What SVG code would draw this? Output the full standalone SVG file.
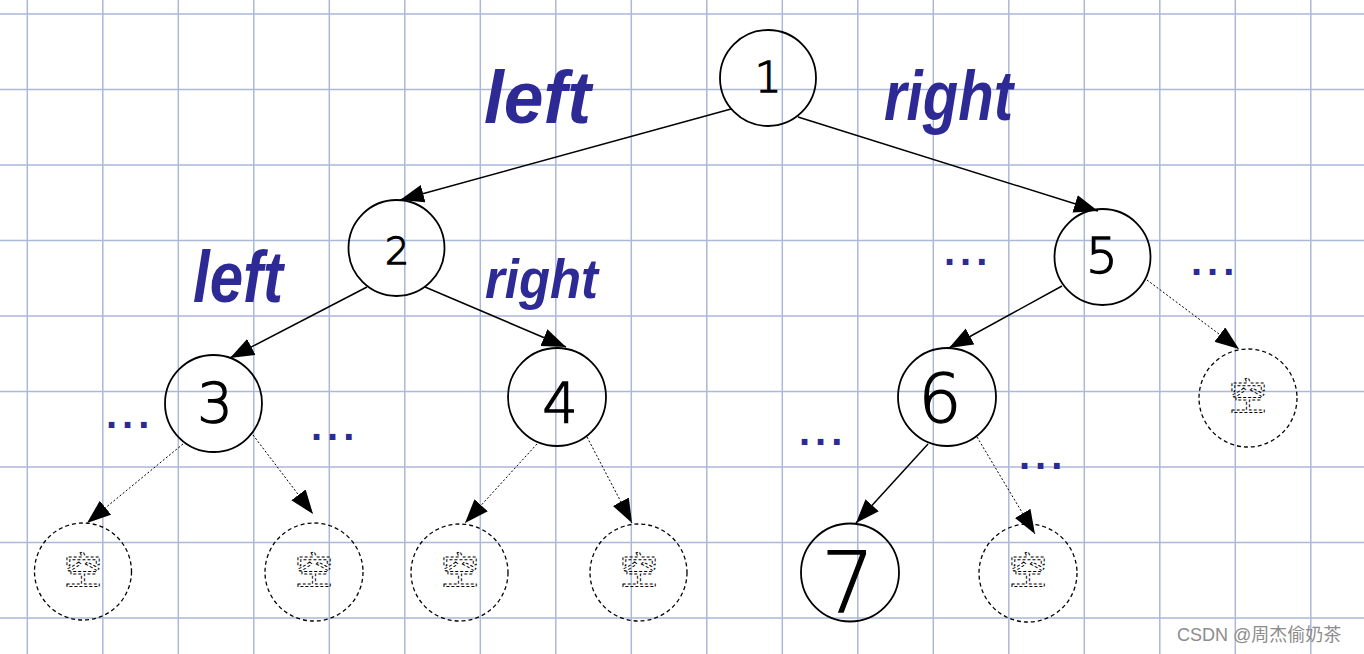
<svg xmlns="http://www.w3.org/2000/svg" width="1364" height="654" viewBox="0 0 1364 654">
<style>
.grid{stroke:#abb9d9;stroke-width:1.5;fill:none}
.node{fill:none;stroke:#000;stroke-width:1.8}
.empty{fill:none;stroke:#000;stroke-width:1.3;stroke-dasharray:4 3}
.num{font-family:"DejaVu Sans","Liberation Sans",sans-serif;font-weight:200;fill:#000;stroke:#000;stroke-width:1.3;text-anchor:middle}
.kong{font-family:"Noto Sans CJK SC",sans-serif;font-size:38px;fill:none;stroke:#000;stroke-width:1;stroke-dasharray:3 2;text-anchor:middle}
.hand{font-family:"Liberation Sans","DejaVu Sans",sans-serif;font-style:italic;font-weight:bold;fill:#2e2a95}
.dots{font-family:"Liberation Sans",sans-serif;font-weight:bold;font-size:40px;letter-spacing:5px;fill:#2e2a95}
.solid{stroke:#000;stroke-width:1.5;fill:none;marker-end:url(#arr)}
.dotted{stroke:#000;stroke-width:1;stroke-dasharray:2 2;fill:none;marker-end:url(#arr)}
.wm{font-family:"Liberation Sans","Noto Sans CJK SC",sans-serif;font-size:18px;fill:#8c8c8c}
</style>
<defs>
<marker id="arr" markerUnits="userSpaceOnUse" markerWidth="26" markerHeight="20" refX="24" refY="9" orient="auto">
<path d="M0,0 L24,9 L0,18 Z" fill="#000"/>
</marker>
</defs>
<rect width="1364" height="654" fill="#fff"/>
<g id="grid">
<path class="grid" d="M27.3,0V654M102.8,0V654M178.3,0V654M253.8,0V654M329.3,0V654M404.8,0V654M480.3,0V654M555.8,0V654M631.3,0V654M706.8,0V654M782.3,0V654M857.8,0V654M933.3,0V654M1008.8,0V654M1084.3,0V654M1159.8,0V654M1235.3,0V654M1310.8,0V654"/>
<path class="grid" d="M0,14H1364M0,89.5H1364M0,165H1364M0,240.5H1364M0,316H1364M0,391.5H1364M0,467H1364M0,542.5H1364M0,618H1364"/>
</g>
<g id="connectors">
<line class="solid" x1="731" y1="109" x2="400" y2="200"/>
<line class="solid" x1="798" y1="117" x2="1098" y2="211"/>
<line class="solid" x1="367" y1="287" x2="230" y2="358"/>
<line class="solid" x1="425" y1="287" x2="566" y2="347"/>
<line class="solid" x1="1062" y1="286" x2="949" y2="348"/>
<line class="dotted" x1="1147" y1="280" x2="1239" y2="349"/>
<line class="dotted" x1="183" y1="444" x2="87" y2="523"/>
<line class="dotted" x1="253" y1="435" x2="313" y2="514"/>
<line class="dotted" x1="537" y1="444" x2="465" y2="523"/>
<line class="dotted" x1="587" y1="437" x2="632" y2="523"/>
<line class="solid" x1="928" y1="444" x2="856" y2="523"/>
<line class="dotted" x1="977" y1="437" x2="1035" y2="534"/>
</g>
<g id="node1"><circle class="node" cx="768" cy="78" r="48"/><text class="num" x="768" y="92" font-size="42">1</text></g>
<g id="node2"><circle class="node" cx="396.5" cy="248" r="48"/><text class="num" x="397" y="264" font-size="38">2</text></g>
<g id="node5"><circle class="node" cx="1102.5" cy="257" r="48"/><text class="num" x="1102" y="273" font-size="50">5</text></g>
<g id="node3"><circle class="node" cx="213.5" cy="403.5" r="48.5"/><text class="num" x="215" y="422" font-size="56">3</text></g>
<g id="node4"><circle class="node" cx="557" cy="397" r="49"/><text class="num" x="560" y="422" font-size="56">4</text></g>
<g id="node6"><circle class="node" cx="947" cy="397" r="49"/><text class="num" x="940" y="422" font-size="68">6</text></g>
<g id="node7"><circle class="node" cx="850" cy="572.5" r="49"/><text class="num" x="848" y="612" font-size="84">7</text></g>
<g id="empty3L"><circle class="empty" cx="83" cy="571.5" r="48.5"/><text class="kong" x="83" y="584">空</text></g>
<g id="empty3R"><circle class="empty" cx="314" cy="572" r="49"/><text class="kong" x="314" y="584">空</text></g>
<g id="empty4L"><circle class="empty" cx="459.5" cy="572.5" r="48.5"/><text class="kong" x="460" y="584">空</text></g>
<g id="empty4R"><circle class="empty" cx="638.5" cy="572.5" r="48.5"/><text class="kong" x="639" y="584">空</text></g>
<g id="empty6R"><circle class="empty" cx="1028" cy="573" r="49"/><text class="kong" x="1028" y="584">空</text></g>
<g id="empty5R"><circle class="empty" cx="1248" cy="398" r="49"/><text class="kong" x="1248" y="410">空</text></g>
<g id="labels">
<text class="hand" x="484" y="123" font-size="75" textLength="107" lengthAdjust="spacingAndGlyphs">left</text>
<text class="hand" x="884" y="120" font-size="70" textLength="129" lengthAdjust="spacingAndGlyphs">right</text>
<text class="hand" x="193" y="302" font-size="72" textLength="90" lengthAdjust="spacingAndGlyphs">left</text>
<text class="hand" x="485" y="298" font-size="56" textLength="113" lengthAdjust="spacingAndGlyphs">right</text>
<text class="dots" x="106" y="428">...</text>
<text class="dots" x="311" y="440">...</text>
<text class="dots" x="944" y="265">...</text>
<text class="dots" x="1191" y="275">...</text>
<text class="dots" x="799" y="445">...</text>
<text class="dots" x="1019" y="469">...</text>
</g>
<text class="wm" x="1177" y="641">CSDN @周杰偷奶茶</text>
</svg>
